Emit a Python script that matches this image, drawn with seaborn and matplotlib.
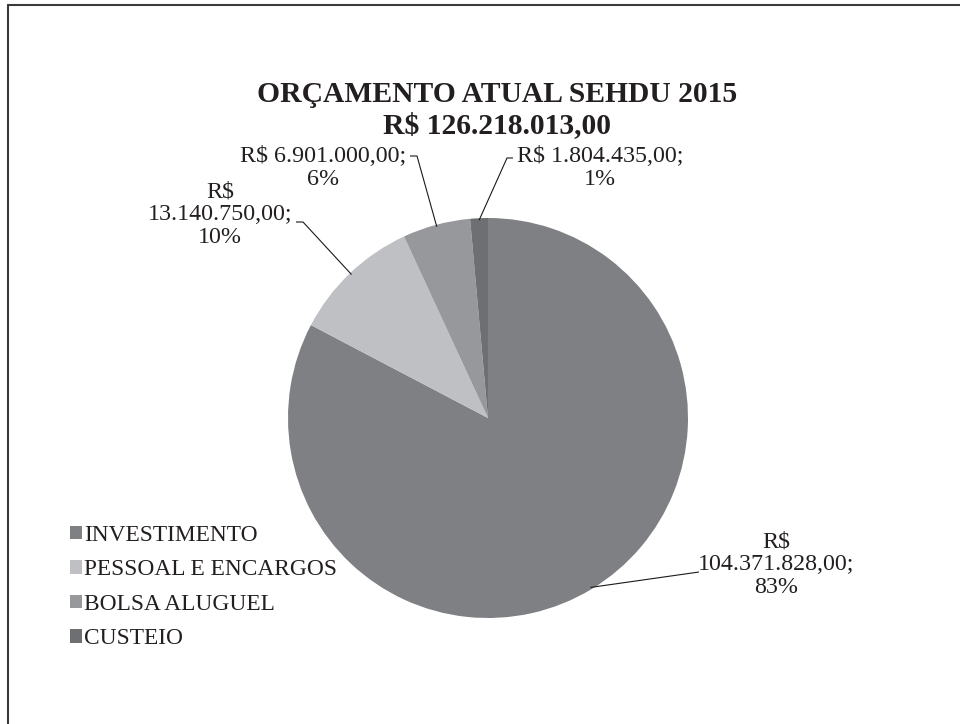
import matplotlib
matplotlib.use('Agg')
import matplotlib.pyplot as plt
import seaborn as sns
import numpy as np
from matplotlib.lines import Line2D
from matplotlib.patches import Patch

# ---- data ----
categories = ['INVESTIMENTO', 'PESSOAL E ENCARGOS', 'BOLSA ALUGUEL', 'CUSTEIO']
values = [104371828.00, 13140750.00, 6901000.00, 1804435.00]
value_labels = ['R$\n104.371.828,00;\n83%',
                'R$\n13.140.750,00;\n10%',
                'R$ 6.901.000,00;\n6%',
                'R$ 1.804.435,00;\n1%']
colors = ['#7f8084', '#bfc0c4', '#97989c', '#6e6f73']
title_lines = ['ORÇAMENTO ATUAL SEHDU 2015', 'R$ 126.218.013,00']

sns.set_theme(style='white')
plt.rcParams['font.family'] = ['Liberation Serif', 'DejaVu Serif']

W, H = 960, 724
fig = plt.figure(figsize=(W / 100, H / 100), dpi=100)
fig.patch.set_facecolor('white')

cx, cy, R = 488, 418, 200
ax = fig.add_axes([(cx - R) / W, (H - cy - R) / H, 2 * R / W, 2 * R / H])
wedges, _ = ax.pie(values, colors=colors, startangle=90, counterclock=False,
                   radius=1, wedgeprops=dict(linewidth=0))
ax.set_xlim(-1, 1)
ax.set_ylim(-1, 1)
ax.set_aspect('equal')
ax.axis('off')


def px(x, y):
    return ((x - cx) / R, (cy - y) / R)


text_color = '#231f20'
label_fs = 17.3
legend_fs = 16.8

# label layout (text centre, leader start, optional dash end)
label_centers = [px(776, 565), px(220, 215), px(323, 168), px(600, 168)]
leader_starts = [px(699, 572), px(296, 222), px(410, 156), px(513, 158)]
dash_ends = [None, px(303, 222), px(417, 156), px(507, 158)]

for w, lab, c, s, d in zip(wedges, value_labels, label_centers, leader_starts, dash_ends):
    ang = np.deg2rad((w.theta1 + w.theta2) / 2)
    edge = (np.cos(ang) * 0.99, np.sin(ang) * 0.99)
    ax.text(c[0], c[1], lab, ha='center', va='center', fontsize=label_fs,
            color=text_color, linespacing=1.1, clip_on=False)
    pts = [s] + ([d] if d is not None else []) + [edge]
    xs, ys = zip(*pts)
    ax.plot(xs, ys, color='#1a1a1a', lw=0.8, clip_on=False, solid_capstyle='butt')

# title
fig.text(497 / W, (H - 110) / H, '\n'.join(title_lines), ha='center', va='center',
         fontsize=21.3, fontweight='bold', color=text_color, linespacing=1.2)

# legend
handles = [Patch(facecolor=c, edgecolor='none') for c in colors]
fig.legend(handles, categories, loc='center left',
           bbox_to_anchor=(70 / W, (H - 587) / H), frameon=False,
           fontsize=legend_fs, handlelength=0.52, handleheight=0.52,
           handletextpad=0.08, labelspacing=0.58, borderpad=0, borderaxespad=0,
           labelcolor=text_color)

# frame (top and left edges only visible)
fig.add_artist(Line2D([8 / W, 1], [1 - 5 / H, 1 - 5 / H], transform=fig.transFigure,
                      color='#3a3a3a', lw=1.5))
fig.add_artist(Line2D([8 / W, 8 / W], [0, 1 - 5 / H], transform=fig.transFigure,
                      color='#3a3a3a', lw=1.5))

fig.savefig('out.png', dpi=100)
